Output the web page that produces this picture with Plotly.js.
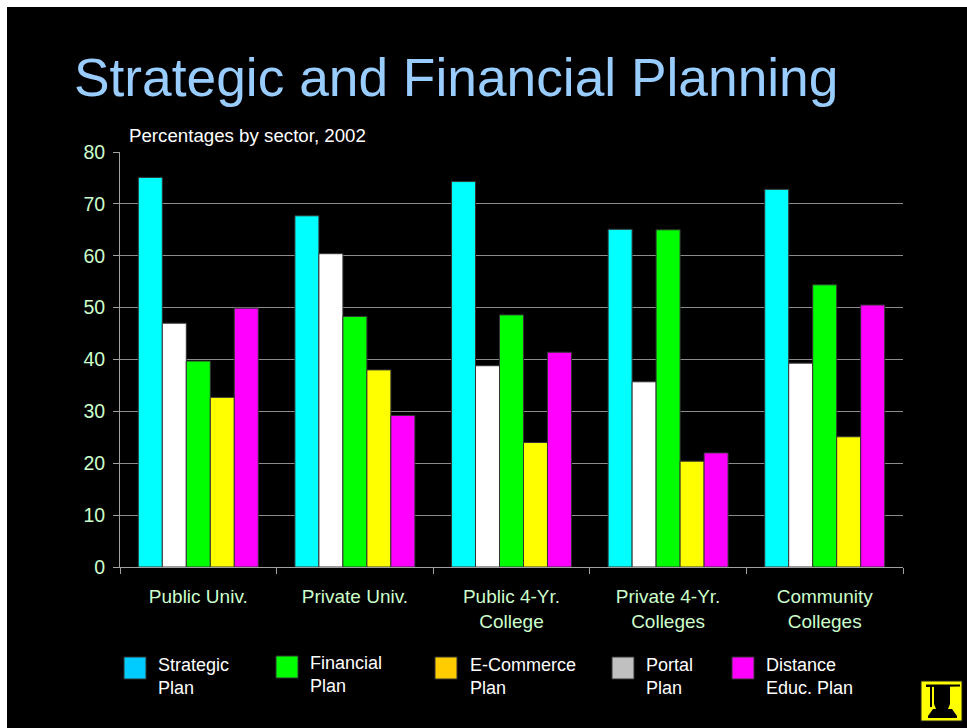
<!DOCTYPE html>
<html>
<head>
<meta charset="utf-8">
<script src="https://cdn.plot.ly/plotly-3.0.1.min.js"></script>
<style>
  html, body { margin: 0; padding: 0; background: #ffffff; width: 967px; height: 728px; overflow: hidden; }
  #chart { position: absolute; left: 7px; top: 7px; width: 960px; height: 721px; }
</style>
</head>
<body>
<div id="chart"></div>
<script>
// ---- Data ----
const categories = ["Public Univ.", "Private Univ.", "Public 4-Yr.<br>College", "Private 4-Yr.<br>Colleges", "Community<br>Colleges"];
const strategicPlan = [75.1, 67.7, 74.3, 65.1, 72.8];
const portalPlan    = [47.0, 60.4, 38.8, 35.7, 39.3];
const financialPlan = [39.7, 48.3, 48.6, 65.0, 54.4];
const ecommercePlan = [32.7, 38.0, 24.0, 20.4, 25.1];
const distancePlan  = [49.9, 29.2, 41.4, 22.0, 50.5];
const yTickValues = [0, 10, 20, 30, 40, 50, 60, 70, 80];

// series order as drawn (left to right within each group)
const seriesNames  = ["Strategic Plan", "Portal Plan", "Financial Plan", "E-Commerce Plan", "Distance Educ. Plan"];
const seriesValues = [strategicPlan, portalPlan, financialPlan, ecommercePlan, distancePlan];
const barColors    = ["#00FFFF", "#FFFFFF", "#00FF00", "#FFFF00", "#FF00FF"];

// legend (as shown in the slide, with its own swatch colours)
const legendLabels = ["Strategic<br>Plan", "Financial<br>Plan", "E-Commerce<br>Plan", "Portal<br>Plan", "Distance<br>Educ. Plan"];
const legendColors = ["#00CCFF", "#00FF00", "#FFCC00", "#C0C0C0", "#FF00FF"];

// ---- Geometry helpers (page pixels -> paper coords) ----
const W = 960, H = 721, OX = 7, OY = 7;
const M = { l: 113, r: 64, t: 145, b: 161 };
const PW = W - M.l - M.r, PH = H - M.t - M.b;
const px = x => (x - OX - M.l) / PW;
const py = y => 1 - (y - OY - M.t) / PH;

const traces = seriesNames.map((name, i) => ({
  type: "bar",
  name: name,
  x: categories,
  y: seriesValues[i],
  marker: { color: barColors[i], line: { color: "#333333", width: 1 } },
  hoverinfo: "x+y+name"
}));

const shapes = [];
const annotations = [];

// subtitle
annotations.push({
  xref: "paper", yref: "paper", x: px(127), y: py(136),
  xanchor: "left", yanchor: "middle", showarrow: false,
  text: "Percentages by sector, 2002",
  font: { family: "Arial, Liberation Sans, sans-serif", size: 18.7, color: "#FFFFFF" }
});

// legend items
const legendSwatchX = [124, 276, 435, 612, 732];
const legendSwatchY = [657, 656, 657, 657, 657];
const legendTextX   = [156, 308, 468, 644, 764];
const legendTextY   = [676.5, 674.5, 676.5, 676.5, 676.5];
legendLabels.forEach((lab, i) => {
  shapes.push({
    type: "rect", xref: "paper", yref: "paper",
    x0: px(legendSwatchX[i]), x1: px(legendSwatchX[i] + 22),
    y0: py(legendSwatchY[i]), y1: py(legendSwatchY[i] + 22),
    fillcolor: legendColors[i], line: { color: "#333333", width: 1 }
  });
  annotations.push({
    xref: "paper", yref: "paper", x: px(legendTextX[i]), y: py(legendTextY[i]),
    xanchor: "left", yanchor: "middle", align: "left", showarrow: false,
    text: lab,
    font: { family: "Arial, Liberation Sans, sans-serif", size: 18, color: "#FFFFFF" }
  });
});

// logo (yellow box with graduation-cap figure)
shapes.push({
  type: "rect", xref: "paper", yref: "paper",
  x0: px(921), x1: px(962), y0: py(681), y1: py(721),
  fillcolor: "#FFFF00", line: { color: "#222222", width: 1 }
});
function pathFrom(pts) {
  return "M " + pts.map(p => px(p[0]) + "," + py(p[1])).join(" L ") + " Z";
}
// mortarboard
shapes.push({ type: "path", xref: "paper", yref: "paper",
  path: pathFrom([[926, 684.5], [960, 684.5], [960, 686.5], [926, 687]]),
  fillcolor: "#000000", line: { width: 0 } });
// head / body
shapes.push({ type: "path", xref: "paper", yref: "paper",
  path: pathFrom([[934, 686], [950, 686], [950, 704], [948, 709], [936, 709], [934, 704]]),
  fillcolor: "#000000", line: { width: 0 } });
// left tassel
shapes.push({ type: "path", xref: "paper", yref: "paper",
  path: pathFrom([[930, 686], [932, 686], [932, 707], [930, 707]]),
  fillcolor: "#000000", line: { width: 0 } });
// base
shapes.push({ type: "path", xref: "paper", yref: "paper",
  path: pathFrom([[933, 709], [952, 709], [957, 716], [957, 718], [928, 718], [928, 716]]),
  fillcolor: "#000000", line: { width: 0 } });

const layout = {
  width: W, height: H,
  paper_bgcolor: "#000000",
  plot_bgcolor: "#000000",
  margin: M,
  showlegend: false,
  barmode: "group",
  bargap: 0.234,
  bargroupgap: 0,
  title: {
    text: "Strategic and Financial Planning",
    xref: "container", yref: "container",
    x: 67 / W, xanchor: "left",
    y: 1 - 70 / H, yanchor: "middle",
    font: { family: "Arial, Liberation Sans, sans-serif", size: 53.3, color: "#99CCFF" }
  },
  xaxis: {
    type: "category",
    tickson: "boundaries",
    ticks: "outside", ticklen: 6, tickcolor: "#A0A0A0", tickwidth: 1,
    showline: true, linecolor: "#A0A0A0", linewidth: 1,
    showgrid: false,
    ticklabelstandoff: 12,
    tickfont: { family: "Arial, Liberation Sans, sans-serif", size: 19, color: "#CCFFCC" }
  },
  yaxis: {
    range: [0, 80],
    tickvals: yTickValues,
    ticks: "outside", ticklen: 6, tickcolor: "#A0A0A0", tickwidth: 1,
    showline: true, linecolor: "#A0A0A0", linewidth: 1,
    showgrid: true, gridcolor: "#8C8C8C", gridwidth: 1,
    zeroline: false,
    ticklabelstandoff: 4,
    tickfont: { family: "Arial, Liberation Sans, sans-serif", size: 19.5, color: "#CCFFCC" }
  },
  shapes: shapes,
  annotations: annotations
};

Plotly.newPlot("chart", traces, layout, { displayModeBar: false, staticPlot: true });
</script>
</body>
</html>
